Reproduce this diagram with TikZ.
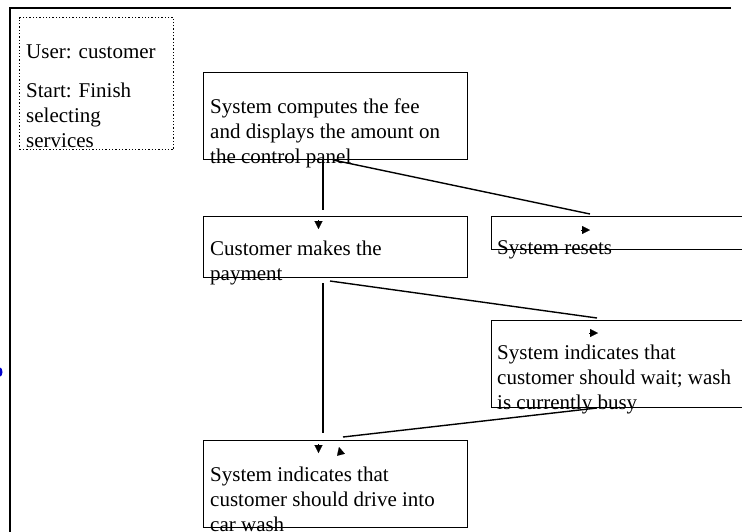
\documentclass[tikz,border=0pt]{standalone}
\usepackage{fontspec}
\setmainfont{Liberation Serif}
\usetikzlibrary{arrows.meta}

\tikzset{
  frame/.style={line width=1.5pt},
  box/.style={draw, line width=1.4pt, rectangle, inner sep=0pt, anchor=north west},
  note/.style={draw, dotted, line width=1.3pt, rectangle, inner sep=0pt, anchor=north west},
  txt/.style={anchor=base west, inner sep=0pt, align=left, font=\fontsize{21}{25}\selectfont},
  link/.style={line width=1.4pt},
  head/.style={-{Triangle[length=8pt,width=8pt]}, line width=0.1pt}
}

\begin{document}
\begin{tikzpicture}[x=1pt,y=-1pt]
            \useasboundingbox (0,0) rectangle (742,531);
            % page frame and stray mark
            \draw[frame] (731,8) -- (10,8) -- (10,545);
            \fill[blue!80!black] (0,372) ellipse (2.5 and 4.5);

            % actor note (base anchor = last line)
            \node[note, minimum width=154pt, minimum height=132pt] (note) at (19,17) {};
            \node[txt] (user) at (26,58) {User: customer};
            \node[txt] (start) at (26,147) {Start: Finish\\selecting\\services};

            % steps
            \node[box, minimum width=264pt, minimum height=87pt] (fee) at (203,72) {};
            \node[txt] (feetxt) at (210,163) {System computes the fee\\and displays the amount on\\the control panel};
            \node[box, minimum width=264pt, minimum height=61pt] (pay) at (203,216) {};
            \node[txt] (paytxt) at (210,280) {Customer makes the\\payment};
            \node[box, minimum width=264pt, minimum height=33pt] (reset) at (491,216) {};
            \node[txt] (resettxt) at (497,254) {System resets};
            \node[box, minimum width=264pt, minimum height=87pt] (wait) at (491,320) {};
            \node[txt] (waittxt) at (497,409) {System indicates that\\customer should wait; wash\\is currently busy};
            \node[box, minimum width=264pt, minimum height=87pt] (drive) at (203,440) {};
            \node[txt] (drivetxt) at (210,531) {System indicates that\\customer should drive into\\car wash};

            % connector ends
            \coordinate (feeA) at (323,159);
            \coordinate (feeB) at (333,160);
            \coordinate (payA) at (323,210);
            \coordinate (payB) at (330,281);
            \coordinate (payC) at (323,283);
            \coordinate (resetA) at (590,214);
            \coordinate (waitA) at (597,318);
            \coordinate (waitB) at (597,408);
            \coordinate (driveA) at (323,433);
            \coordinate (driveB) at (343,437);
            \draw[link] (feeA) -- (payA);
            \draw[link] (feeB) -- (resetA);
            \draw[link] (payB) -- (waitA);
            \draw[link] (payC) -- (driveA);
            \draw[link] (waitB) -- (driveB);

            % arrow heads, drawn apart from their lines
            \draw[head] (318.5,220) -- (318.5,229);
            \draw[head] (581,230) -- (590,230);
            \draw[head] (589,333) -- (598,333);
            \draw[head] (318.5,444) -- (318.5,453);
            \draw[head] (341,455) -- (339,447);
        \end{tikzpicture}
\end{document}
